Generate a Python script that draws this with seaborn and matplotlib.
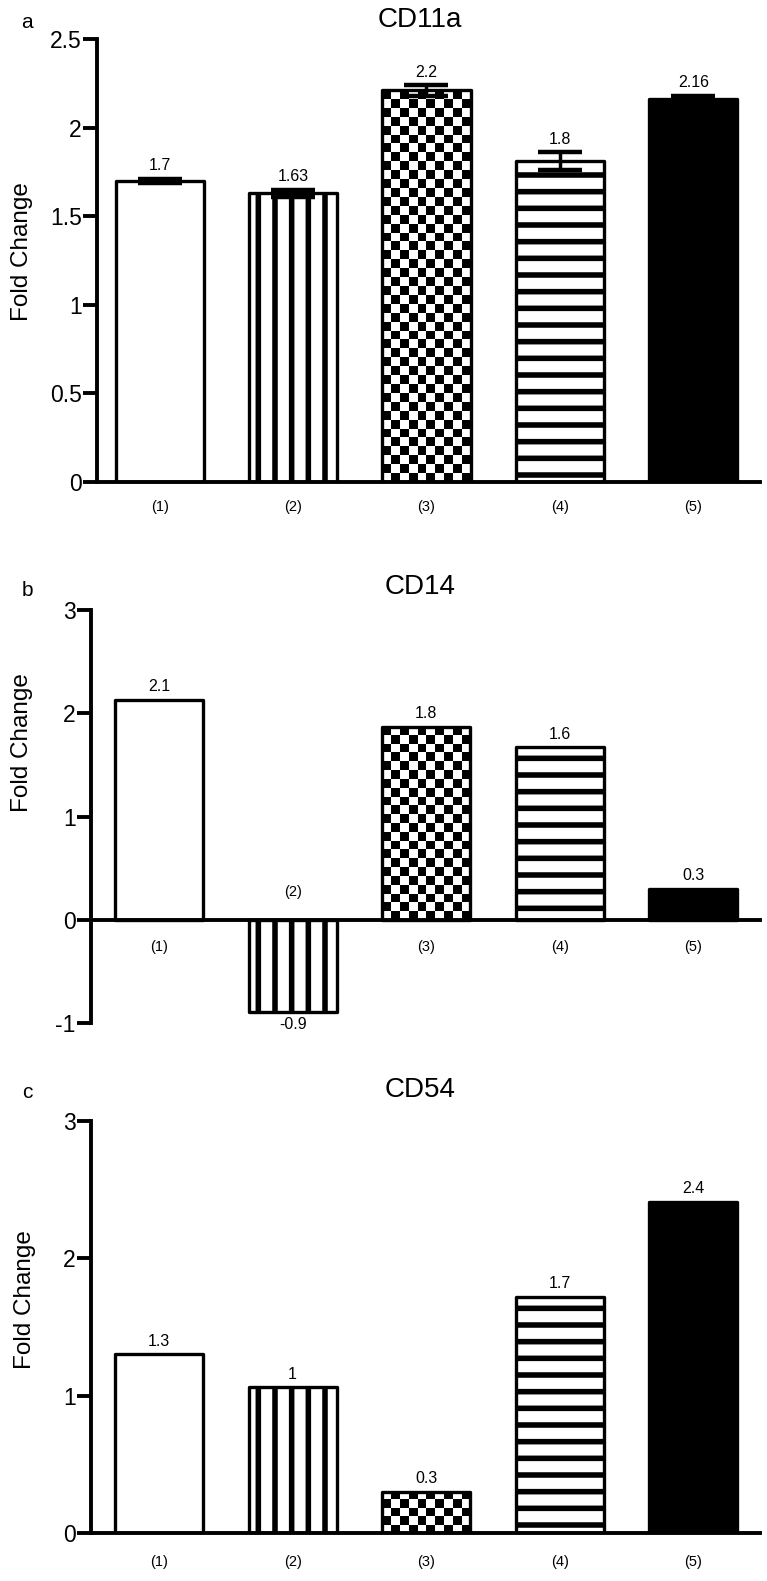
import numpy as np
import matplotlib
matplotlib.use('Agg')
import matplotlib.pyplot as plt
import seaborn as sns
from matplotlib.ticker import FuncFormatter

groups = ['(1)', '(2)', '(3)', '(4)', '(5)']

cd11a_vals = [1.70, 1.63, 2.21, 1.81, 2.16]
cd11a_err = [0.01, 0.02, 0.03, 0.05, 0.02]
cd11a_text = ['1.7', '1.63', '2.2', '1.8', '2.16']

cd14_vals = [2.13, -0.89, 1.87, 1.67, 0.30]
cd14_text = ['2.1', '-0.9', '1.8', '1.6', '0.3']

cd54_vals = [1.30, 1.06, 0.30, 1.72, 2.41]
cd54_text = ['1.3', '1', '0.3', '1.7', '2.4']

sns.set_theme(style='white')
plt.rcParams['font.family'] = ['Liberation Sans', 'DejaVu Sans']
plt.rcParams['hatch.linewidth'] = 4.0
plt.rcParams['hatch.color'] = 'black'
for key in ['text.color', 'axes.labelcolor', 'xtick.color', 'ytick.color', 'axes.edgecolor']:
    plt.rcParams[key] = 'black'

W, H = 767, 1581
fig = plt.figure(figsize=(W / 100, H / 100), dpi=100)


def px_axes(left, right, top, bottom):
    return fig.add_axes([left / W, 1 - bottom / H, (right - left) / W, (bottom - top) / H])


def add_checker(ax, patch):
    bb = patch.get_window_extent()
    nx = 10
    cell = bb.width / nx
    ny = max(1, int(round(abs(bb.height) / cell)))
    img = np.indices((ny, nx)).sum(axis=0) % 2
    x0, y0 = patch.get_x(), patch.get_y()
    w, h = patch.get_width(), patch.get_height()
    im = ax.imshow(img, cmap='Greys', vmin=0, vmax=1, origin='lower',
                   extent=(x0, x0 + w, y0, y0 + h), aspect='auto',
                   interpolation='nearest', zorder=0.5)
    im.set_clip_path(patch)


def panel(ax, vals, texts, xlim, ylim, yticks, err=None, labels_on_zero=False,
          ylab_xy=(-0.1, 0.5), xpad=13):
    sns.barplot(x=groups, y=vals, order=groups, color='white', saturation=1,
                edgecolor='black', linewidth=2.4, width=0.66, errorbar=None, ax=ax)
    ax.set_xlim(*xlim)
    ax.set_ylim(*ylim)
    patches = ax.patches
    for i, p in enumerate(patches):
        p.set_joinstyle('round')
        p.set_edgecolor('black')
        if i == 1:
            p.set_hatch('|')
        elif i == 3:
            p.set_hatch('-')
        elif i == 4:
            p.set_facecolor('black')
    patches[2].set_facecolor('none')
    add_checker(ax, patches[2])
    ax.set_xlim(*xlim)
    ax.set_ylim(*ylim)

    if err is not None:
        ax.errorbar(range(len(vals)), vals, yerr=err, fmt='none', ecolor='black',
                    elinewidth=2.5, capsize=16, capthick=3.2, zorder=3, clip_on=False)

    for i, (v, t) in enumerate(zip(vals, texts)):
        if v >= 0:
            top = v + (err[i] if err is not None else 0)
            ax.annotate(t, (i, top), xytext=(0, 4), textcoords='offset points',
                        ha='center', va='bottom', fontsize=11.5)
        else:
            ax.annotate(t, (i, v), xytext=(0, -4), textcoords='offset points',
                        ha='center', va='top', fontsize=11.5)

    for s in ['top', 'right']:
        ax.spines[s].set_visible(False)
    for s in ['left', 'bottom']:
        ax.spines[s].set_linewidth(2.8)
        ax.spines[s].set_color('black')
    ax.set_yticks(yticks)
    ax.yaxis.set_major_formatter(FuncFormatter(lambda v, _: '%g' % v))
    ax.tick_params(axis='y', direction='out', length=10, width=2.8, pad=1,
                   labelsize=16.5, left=True, colors='black')
    ax.set_ylabel('Fold Change', fontsize=17.5)
    ax.yaxis.set_label_coords(*ylab_xy)
    ax.set_xlabel('')

    if labels_on_zero:
        ax.spines['bottom'].set_position(('data', 0))
        ax.tick_params(axis='x', length=0, labelbottom=False)
        for i, v in enumerate(vals):
            off = -19.5 if v >= 0 else 20
            ax.annotate(groups[i], (i, 0), xytext=(0, off), textcoords='offset points',
                        ha='center', va='center', fontsize=10.5)
    else:
        ax.tick_params(axis='x', length=0, pad=xpad, labelsize=10.5)


ax_a = px_axes(97, 760, 39, 482)
panel(ax_a, cd11a_vals, cd11a_text, (-0.47, 4.5), (0, 2.5),
      [0, 0.5, 1, 1.5, 2, 2.5], err=cd11a_err, ylab_xy=(-0.096, 0.52), xpad=13)

ax_b = px_axes(91, 760, 610, 1023)
panel(ax_b, cd14_vals, cd14_text, (-0.51, 4.5), (-1, 3),
      [-1, 0, 1, 2, 3], labels_on_zero=True, ylab_xy=(-0.086, 0.68))

ax_c = px_axes(91, 760, 1121, 1533)
panel(ax_c, cd54_vals, cd54_text, (-0.51, 4.5), (0, 3),
      [0, 1, 2, 3], ylab_xy=(-0.082, 0.566), xpad=16)

for letter, title, y in [('a', 'CD11a', 20), ('b', 'CD14', 587), ('c', 'CD54', 1090)]:
    fig.text(27 / W, 1 - (y + 3) / H, letter, fontsize=15, ha='center', va='center')
    fig.text(420 / W, 1 - y / H, title, fontsize=20, ha='center', va='center')

fig.savefig('out.png', dpi=100, facecolor='white')
